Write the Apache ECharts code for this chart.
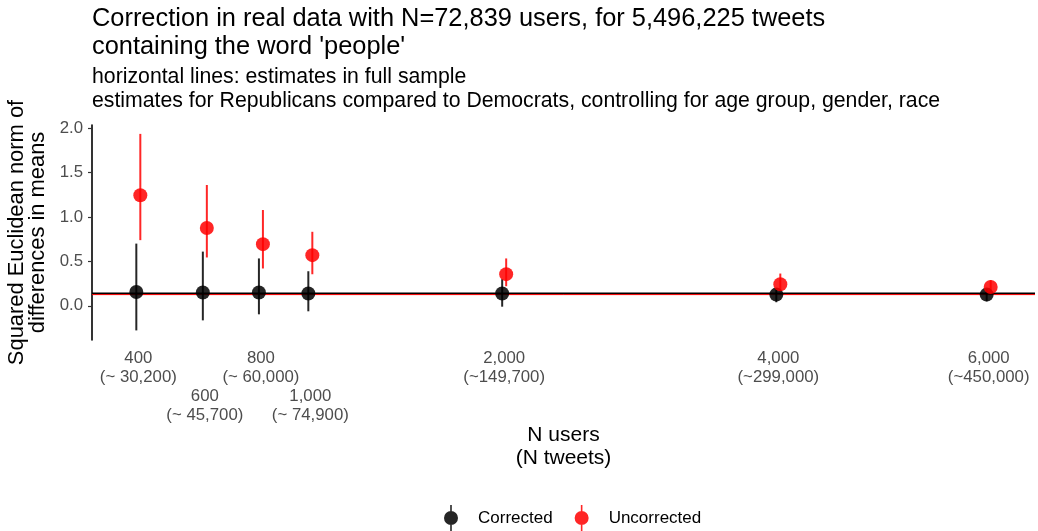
<!DOCTYPE html>
<html><head><meta charset="utf-8">
<script src="https://cdn.jsdelivr.net/npm/echarts@6/dist/echarts.min.js"></script>
<style>html,body{margin:0;padding:0;background:#fff}#c{width:1038px;height:531px}</style>
</head><body><div id="c"></div>
<script>
// ---- data ----
const nUsers = [400, 600, 800, 1000, 2000, 4000, 6000];
const userLabels = ["400", "600", "800", "1,000", "2,000", "4,000", "6,000"];
const tweetLabels = ["(~ 30,200)", "(~ 45,700)", "(~ 60,000)", "(~ 74,900)", "(~149,700)", "(~299,000)", "(~450,000)"];
const staggeredUsers = [600, 1000];
const correctedEst = [0.156, 0.149, 0.149, 0.138, 0.138, 0.126, 0.126];
const correctedLo  = [-0.277, -0.164, -0.096, -0.062, -0.010, 0.040, 0.050];
const correctedHi  = [0.700, 0.610, 0.533, 0.389, 0.300, 0.200, 0.190];
const uncorrectedEst = [1.244, 0.875, 0.694, 0.570, 0.356, 0.243, 0.212];
const uncorrectedLo  = [0.739, 0.544, 0.420, 0.355, 0.220, 0.160, 0.140];
const uncorrectedHi  = [1.935, 1.360, 1.078, 0.833, 0.533, 0.363, 0.288];
const fullSampleCorrected = 0.138;
const fullSampleUncorrected = 0.126;
const yTicks = [0, 0.5, 1.0, 1.5, 2.0];

// ---- chart ----
const FONT = '"Liberation Sans", Arial, Helvetica, sans-serif';
const X_MIN = 16.87, X_MAX = 80.59;
const BLACK = 'rgba(0,0,0,0.85)';
const RED = 'rgba(255,0,0,0.85)';
const sx = nUsers.map(n => Math.sqrt(n));
const sxMain = nUsers.filter(n => staggeredUsers.indexOf(n) < 0).map(n => Math.sqrt(n));
const sxStag = nUsers.filter(n => staggeredUsers.indexOf(n) >= 0).map(n => Math.sqrt(n));

function labelFor(v) {
  let idx = -1;
  sx.forEach((s, i) => { if (Math.abs(s - v) < 1e-6) idx = i; });
  if (idx < 0) return '';
  return userLabels[idx] + '\n' + tweetLabels[idx];
}

function errSeries(name, color, lo, hi, dodge) {
  return {
    name: name, type: 'custom', z: 3,
    data: nUsers.map((n, i) => [Math.sqrt(n), lo[i], hi[i]]),
    encode: { x: 0, y: [1, 2] },
    renderItem: function (params, api) {
      const a = api.coord([api.value(0), api.value(1)]);
      const b = api.coord([api.value(0), api.value(2)]);
      return { type: 'line', shape: { x1: a[0] + dodge, y1: a[1], x2: b[0] + dodge, y2: b[1] },
        style: { stroke: color, lineWidth: 2 } };
    }
  };
}
function pointSeries(name, color, est, dodge) {
  return {
    name: name, type: 'scatter', z: 4, symbol: 'circle', symbolSize: 14,
    symbolOffset: [dodge, 0],
    itemStyle: { color: color, opacity: 1 },
    data: nUsers.map((n, i) => [Math.sqrt(n), est[i]])
  };
}
function hLine(name, color, val, width, z) {
  return {
    name: name, type: 'line', symbol: 'none', z: z, silent: true,
    lineStyle: { color: color, width: width },
    data: [[X_MIN, val], [X_MAX, val]]
  };
}

const legendIcon = 'path://M6.2,0H7.8V26H6.2Z M14,13A7,7,0,1,1,0,13A7,7,0,1,1,14,13Z';
const xLabelStyle = { fontFamily: FONT, fontSize: 16.8, color: '#4d4d4d', lineHeight: 19, align: 'center',
  hideOverlap: false, showMinLabel: true, showMaxLabel: true, formatter: labelFor };

const option = {
  backgroundColor: '#fff',
  animation: false,
  textStyle: { fontFamily: FONT },
  title: [
    { text: "Correction in real data with N=72,839 users, for 5,496,225 tweets\ncontaining the word 'people'",
      left: 92, top: 5, padding: 0,
      textStyle: { fontFamily: FONT, fontSize: 25.4, fontWeight: 'normal', color: '#000', lineHeight: 28 } },
    { text: "horizontal lines: estimates in full sample\nestimates for Republicans compared to Democrats, controlling for age group, gender, race",
      left: 92, top: 65, padding: 0,
      textStyle: { fontFamily: FONT, fontSize: 21.25, fontWeight: 'normal', color: '#000', lineHeight: 24 } }
  ],
  legend: {
    top: 505, left: 444, padding: 0, itemWidth: 14, itemHeight: 26, itemGap: 22,
    data: [
      { name: 'Corrected', icon: legendIcon, itemStyle: { color: BLACK } },
      { name: 'Uncorrected', icon: legendIcon, itemStyle: { color: RED } }
    ],
    textStyle: { fontFamily: FONT, fontSize: 17, color: '#000', padding: [0, 0, 0, 15] }
  },
  grid: { left: 92, right: 3, top: 125, bottom: 191, containLabel: false, outerBoundsMode: 'none' },
  xAxis: [{
    type: 'value', min: X_MIN, max: X_MAX, position: 'bottom',
    name: 'N users\n(N tweets)', nameLocation: 'middle', nameGap: 84,
    nameTextStyle: { fontFamily: FONT, fontSize: 21, color: '#000', lineHeight: 23, verticalAlign: 'top' },
    axisLine: { show: false }, axisTick: { show: false }, splitLine: { show: false },
    axisLabel: Object.assign({ customValues: sxMain, margin: 9 }, xLabelStyle)
  }, {
    type: 'value', min: X_MIN, max: X_MAX, position: 'bottom', offset: 0,
    axisLine: { show: false }, axisTick: { show: false }, splitLine: { show: false },
    axisLabel: Object.assign({ customValues: sxStag, margin: 47 }, xLabelStyle)
  }],
  yAxis: {
    type: 'value', min: -0.385, max: 2.035,
    name: 'Squared Euclidean norm of\ndifferences in means', nameLocation: 'middle', nameGap: 38, nameRotate: 90,
    nameTextStyle: { fontFamily: FONT, fontSize: 21.9, color: '#000', lineHeight: 21 },
    axisLine: { show: true, lineStyle: { color: '#000', width: 1.6 } },
    axisTick: { show: true, customValues: yTicks, length: 4, lineStyle: { color: '#333', width: 1.2 } },
    splitLine: { show: false },
    axisLabel: {
      customValues: yTicks, margin: 9, formatter: v => v.toFixed(1), hideOverlap: false,
      fontFamily: FONT, fontSize: 16.8, color: '#4d4d4d'
    }
  },
  series: [
    hLine('full sample corrected', '#000', fullSampleCorrected, 2, 1),
    hLine('full sample uncorrected', '#ff0000', fullSampleUncorrected, 1, 2),
    errSeries('Corrected', BLACK, correctedLo, correctedHi, -2),
    errSeries('Uncorrected', RED, uncorrectedLo, uncorrectedHi, 2),
    pointSeries('Corrected', BLACK, correctedEst, -2),
    pointSeries('Uncorrected', RED, uncorrectedEst, 2)
  ]
};
const chart = echarts.init(document.getElementById('c'));
chart.setOption(option);
</script>
</body></html>
